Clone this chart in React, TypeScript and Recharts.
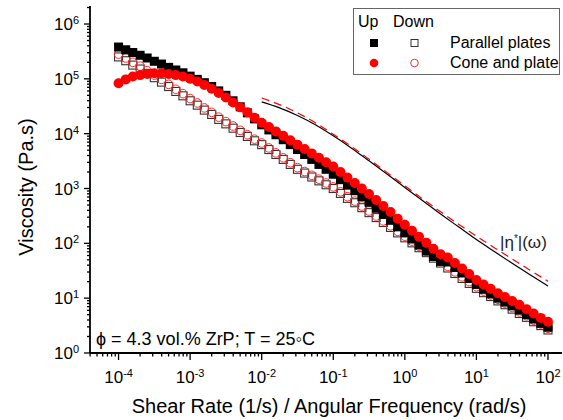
import React from 'react';
import { ComposedChart, Scatter, Line, XAxis, YAxis, Legend } from 'recharts';

const FONT = '"Liberation Sans", Arial, Helvetica, sans-serif';

// shear rate / angular frequency (1/s, rad/s)
const rates = [
  1.0e-4, 1.26e-4, 1.58e-4, 2.0e-4, 2.51e-4, 3.16e-4, 3.98e-4, 5.01e-4, 6.31e-4, 7.94e-4,
  1.0e-3, 1.26e-3, 1.58e-3, 2.0e-3, 2.51e-3, 3.16e-3, 3.98e-3, 5.01e-3, 6.31e-3, 7.94e-3,
  1.0e-2, 1.26e-2, 1.58e-2, 2.0e-2, 2.51e-2, 3.16e-2, 3.98e-2, 5.01e-2, 6.31e-2, 7.94e-2,
  0.1, 0.126, 0.158, 0.2, 0.251, 0.316, 0.398, 0.501, 0.631, 0.794,
  1.0, 1.26, 1.58, 2.0, 2.51, 3.16, 3.98, 5.01, 6.31, 7.94,
  10.0, 12.6, 15.8, 20.0, 25.1, 31.6, 39.8, 50.1, 63.1, 79.4,
  100,
];

// Parallel plates, up sweep (filled squares)
const ppUp = [
  3.8e5, 3.39e5, 3.02e5, 2.69e5, 2.4e5, 2.09e5, 1.86e5, 1.62e5, 1.45e5, 1.29e5,
  1.12e5, 9.77e4, 8.51e4, 7.24e4, 6.03e4, 5.01e4, 3.98e4, 3.09e4, 2.4e4, 1.86e4,
  1.45e4, 1.17e4, 9550, 7760, 6310, 5130, 4170, 3390, 2750, 2240,
  1820, 1450, 1150, 912, 708, 562, 437, 339, 263, 200,
  155, 120, 93.3, 72.4, 57.5, 46.8, 45.7, 36.3, 28.8, 22.9,
  17.8, 14.5, 12.0, 10.0, 8.51, 7.24, 6.03, 5.01, 4.17, 3.47,
  2.95,
];

// Cone and plate, up sweep (filled circles)
const cpUp = [
  8.32e4, 9.77e4, 1.1e5, 1.17e5, 1.23e5, 1.26e5, 1.26e5, 1.23e5, 1.17e5, 1.1e5,
  1.0e5, 8.91e4, 7.76e4, 6.61e4, 5.5e4, 4.57e4, 3.72e4, 3.02e4, 2.45e4, 1.95e4,
  1.58e4, 1.32e4, 1.1e4, 9120, 7590, 6310, 5250, 4370, 3630, 3020,
  2510, 2000, 1580, 1260, 1000, 794, 617, 479, 372, 282,
  219, 170, 132, 102, 79.4, 63.1, 55.0, 43.7, 34.7, 27.5,
  21.4, 17.8, 14.8, 12.3, 10.5, 8.91, 7.59, 6.31, 5.25, 4.37,
  3.72,
];

// Parallel plates, down sweep (open squares)
const ppDown = [
  2.51e5, 2.14e5, 1.78e5, 1.51e5, 1.26e5, 1.05e5, 8.71e4, 7.24e4, 5.89e4, 4.9e4,
  3.98e4, 3.31e4, 2.69e4, 2.24e4, 1.82e4, 1.51e4, 1.26e4, 1.05e4, 8910, 7410,
  6310, 5130, 4170, 3390, 2750, 2240, 1910, 1620, 1380, 1170,
  1000, 813, 661, 550, 447, 363, 295, 240, 195, 155,
  126, 102, 83.2, 67.6, 53.7, 43.7, 35.5, 28.2, 22.9, 18.6,
  15.1, 12.6, 10.7, 8.91, 7.59, 6.31, 5.25, 4.47, 3.72, 3.16,
  2.63,
];

// Cone and plate, down sweep (open circles)
const cpDown = [
  2.82e5, 2.4e5, 2.0e5, 1.7e5, 1.41e5, 1.17e5, 9.77e4, 7.94e4, 6.46e4, 5.37e4,
  4.37e4, 3.63e4, 2.95e4, 2.45e4, 2.0e4, 1.66e4, 1.38e4, 1.15e4, 9550, 7940,
  6760, 5500, 4470, 3630, 2950, 2400, 2040, 1740, 1480, 1260,
  1070, 871, 708, 589, 479, 389, 316, 257, 209, 166,
  135, 110, 89.1, 72.4, 57.5, 46.8, 38.0, 30.2, 24.5, 20.0,
  16.2, 13.5, 11.5, 9.55, 8.13, 6.76, 5.62, 4.79, 3.98, 3.39,
  2.82,
];

// complex viscosity |eta*|(omega)
const omega = [0.01, 0.0178, 0.0316, 0.0562, 0.1, 0.178, 0.316, 0.562, 1, 1.78, 3.16, 5.62, 10, 17.8, 31.6, 56.2, 100];
const etaStarPP = [3.8e4, 2.95e4, 2.14e4, 1.45e4, 9120, 5500, 3200, 1840, 1047, 596, 343, 200, 117, 70.8, 43.2, 26.6, 16.6];
const etaStarCP = [4.47e4, 3.39e4, 2.4e4, 1.58e4, 9770, 5890, 3430, 1970, 1122, 646, 376, 224, 135, 83.2, 51.9, 32.4, 20.4];

// axis ticks
const xTickExps = [-4, -3, -2, -1, 0, 1, 2];
const yTickExps = [0, 1, 2, 3, 4, 5, 6];
const X_DOMAIN: [number, number] = [3.99e-5, 157];
const Y_DOMAIN: [number, number] = [1, 2.13e6];

const pts = (xs: number[], ys: number[]) => xs.map((x, i) => ({ x, y: ys[i] }));
const ppUpData = pts(rates, ppUp);
const cpUpData = pts(rates, cpUp);
const ppDownData = pts(rates, ppDown);
const cpDownData = pts(rates, cpDown);
const ppLine = pts(omega, etaStarPP);
const cpLine = pts(omega, etaStarCP);

const buildTicks = (exps: number[], lo: number, hi: number) => {
  const out: number[] = [];
  const e0 = exps[0] - 1;
  const e1 = exps[exps.length - 1] + 1;
  for (let e = e0; e <= e1; e++) {
    for (let m = 1; m <= 9; m++) {
      const v = m * Math.pow(10, e);
      if (v >= lo * 0.999 && v <= hi * 1.001) out.push(v);
    }
  }
  return out;
};
const xTicks = buildTicks(xTickExps, X_DOMAIN[0], X_DOMAIN[1]);
const yTicks = buildTicks(yTickExps, Y_DOMAIN[0], Y_DOMAIN[1]);

const majorExp = (v: number): number | null => {
  const l = Math.log10(v);
  const r = Math.round(l);
  return Math.abs(l - r) < 1e-6 ? r : null;
};

const XTick = (props: any) => {
  const { x, y, payload } = props;
  const e = majorExp(payload.value);
  const major = e !== null && xTickExps.includes(e);
  return (
    <g>
      <line x1={x} x2={x} y1={y} y2={y + (major ? 7 : 3.5)} stroke="#000" strokeWidth={1.3} />
      {major && (
        <text x={x} y={y + 30} textAnchor="middle" fontSize={17} fontFamily={FONT} fill="#000">
          <tspan>10</tspan>
          <tspan dy={-6} fontSize={11}>{String(e)}</tspan>
        </text>
      )}
    </g>
  );
};

const YTick = (props: any) => {
  const { x, y, payload } = props;
  const e = majorExp(payload.value);
  const major = e !== null && yTickExps.includes(e);
  return (
    <g>
      <line x1={x} x2={x - (major ? 6 : 3)} y1={y} y2={y} stroke="#000" strokeWidth={1.3} />
      {major && (
        <text x={x - 11} y={y + 6} textAnchor="end" fontSize={17} fontFamily={FONT} fill="#000">
          <tspan>10</tspan>
          <tspan dy={-6} fontSize={11}>{String(e)}</tspan>
        </text>
      )}
    </g>
  );
};

const FilledSquare = (p: any) => <rect x={p.cx - 4.5} y={p.cy - 4.5} width={9} height={9} fill="#000" />;
const OpenSquare = (p: any) => (
  <rect x={p.cx - 4} y={p.cy - 4} width={8} height={8} fill="none" stroke="#333" strokeWidth={1.1} />
);
const FilledCircle = (p: any) => <circle cx={p.cx} cy={p.cy} r={5} fill="#ff0000" />;
const OpenCircle = (p: any) => <circle cx={p.cx} cy={p.cy} r={4.3} fill="none" stroke="#ff2a2a" strokeWidth={1} />;

const LegendBox = () => (
  <div
    style={{
      width: 207,
      height: 67,
      border: '1px solid #666',
      boxSizing: 'border-box',
      background: '#fff',
      overflow: 'hidden',
    }}
  >
    <svg width={205} height={65} style={{ display: 'block' }}>
      <g fontFamily={FONT} fontSize={16} fill="#000">
        <text x={4} y={18}>Up</text>
        <text x={39} y={18}>Down</text>
        <rect x={16} y={30} width={8} height={8} fill="#000" />
        <rect x={57} y={30.5} width={7} height={7} fill="none" stroke="#333" strokeWidth={1} />
        <text x={96} y={39}>Parallel plates</text>
        <circle cx={20} cy={54} r={4.3} fill="#ff0000" />
        <circle cx={60.5} cy={54} r={3.8} fill="none" stroke="#ff2a2a" strokeWidth={1} />
        <text x={96} y={59}>Cone and plate</text>
      </g>
    </svg>
  </div>
);

export default function App() {
  return (
    <div style={{ position: 'absolute', left: 0, top: 0, width: 563, height: 420, background: '#fff' }}>
      <ComposedChart width={563} height={420} margin={{ top: 6, right: 1, bottom: 0, left: 0 }}>
        <XAxis
          dataKey="x"
          type="number"
          scale="log"
          domain={X_DOMAIN}
          allowDataOverflow
          ticks={xTicks}
          interval={0}
          tick={<XTick />}
          tickLine={false}
          tickSize={0}
          tickMargin={0}
          height={67}
          axisLine={{ stroke: '#000', strokeWidth: 1.8 }}
        />
        <YAxis
          dataKey="y"
          type="number"
          scale="log"
          domain={Y_DOMAIN}
          allowDataOverflow
          ticks={yTicks}
          interval={0}
          tick={<YTick />}
          tickLine={false}
          tickSize={0}
          tickMargin={0}
          width={90}
          axisLine={{ stroke: '#000', strokeWidth: 1.8 }}
        />
        <Legend
          layout="vertical"
          align="center"
          verticalAlign="middle"
          content={() => <LegendBox />}
          wrapperStyle={{ left: 353, top: 8, width: 207, height: 67 }}
        />
        <Scatter name="Parallel plates down" data={ppDownData} dataKey="y" shape={OpenSquare} isAnimationActive={false} />
        <Scatter name="Cone and plate down" data={cpDownData} dataKey="y" shape={OpenCircle} isAnimationActive={false} />
        <Scatter name="Parallel plates up" data={ppUpData} dataKey="y" shape={FilledSquare} isAnimationActive={false} />
        <Scatter name="Cone and plate up" data={cpUpData} dataKey="y" shape={FilledCircle} isAnimationActive={false} />
        <Line
          data={ppLine}
          dataKey="y"
          type="monotone"
          dot={false}
          stroke="#000"
          strokeWidth={1.2}
          isAnimationActive={false}
        />
        <Line
          data={cpLine}
          dataKey="y"
          type="monotone"
          dot={false}
          stroke="#ff0000"
          strokeWidth={1.2}
          strokeDasharray="8 5"
          isAnimationActive={false}
        />
        <text x={500} y={248} fontSize={17} fontFamily={FONT} fill="#222">
          |η<tspan dy={-6} fontSize={10}>*</tspan>
          <tspan dy={6}>|(ω)</tspan>
        </text>
        <text x={96} y={345} fontSize={18} fontFamily={FONT} fill="#000">
          ϕ = 4.3 vol.% ZrP; T = 25◦C
        </text>
        <text
          transform="rotate(-90)"
          x={-187}
          y={33}
          textAnchor="middle"
          fontSize={20}
          fontFamily={FONT}
          fill="#000"
        >
          Viscosity (Pa.s)
        </text>
        <text x={329} y={413} textAnchor="middle" fontSize={20} fontFamily={FONT} fill="#000">
          Shear Rate (1/s) / Angular Frequency (rad/s)
        </text>
      </ComposedChart>
    </div>
  );
}
